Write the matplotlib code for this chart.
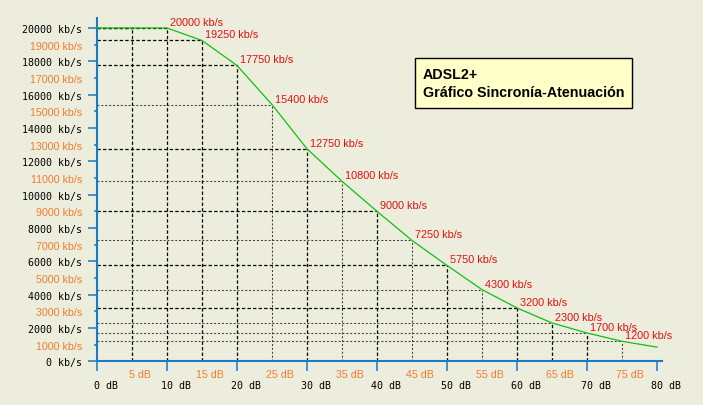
import matplotlib.pyplot as plt
from matplotlib.ticker import FixedLocator, FuncFormatter
from matplotlib.patches import Rectangle

plt.rcParams['lines.scale_dashes'] = False

# datos de la curva (atenuacion en dB, sincronia en kb/s)
atenuacion_db = [0, 5, 10, 15, 20, 25, 30, 35, 40, 45, 50, 55, 60, 65, 70, 75, 80]
sincronia_kbps = [20000, 20000, 20000, 19250, 17750, 15400, 12750, 10800, 9000,
                  7250, 5750, 4300, 3200, 2300, 1700, 1200, 850]

# puntos con lineas de referencia (5..75 dB) y puntos con etiqueta (10..75 dB)
ref_db = atenuacion_db[1:-1]
ref_kbps = sincronia_kbps[1:-1]
etiq_db = atenuacion_db[2:-1]
etiq_kbps = sincronia_kbps[2:-1]

# ticks
y_mayor = list(range(0, 20001, 2000))
y_menor = list(range(1000, 20000, 2000))
x_mayor = list(range(0, 81, 10))
x_menor = list(range(5, 80, 10))

# estilo de cada linea de referencia: True = trazo negro, False = punteado fino
horiz_fuerte = [True, True, True, True, False, True, False, True, False, True,
                False, True, False, False, False]
vert_fuerte = [True, True, True, True, False, True, False, True, False, True,
               False, True, True, True, False]

fondo = '#ECEDDC'
azul = '#1A7AC8'
naranja = '#F07C30'
rojo = '#E01010'
verde = '#10C010'

W, H = 703, 406
fig = plt.figure(figsize=(W / 100, H / 100), dpi=100, facecolor=fondo)
ax = fig.add_axes([97 / W, 43.7 / H, (661.7 - 97) / W, (386.7 - 43.7) / H], facecolor=fondo)
ax.set_xlim(0, 80.67)
ax.set_ylim(0, 20580)

fuerte = dict(color='black', lw=0.9, dashes=(2.4, 1.6))
fino = dict(color='#3A3A3A', lw=0.75, dashes=(1.4, 1.4))

for x, y, h, v in zip(ref_db, ref_kbps, horiz_fuerte, vert_fuerte):
    ax.plot([0, x], [y, y], **(fuerte if h else fino))
    ax.plot([x, x], [0, y], **(fuerte if v else fino))

# curva
ax.plot(atenuacion_db, sincronia_kbps, color=verde, lw=0.9, zorder=5, clip_on=False)

for x, y in zip(etiq_db, etiq_kbps):
    ax.annotate(f"{y} kb/s", (x, y), xytext=(3, 6), textcoords='offset pixels',
                ha='left', va='center', color=rojo, fontsize=7.8,
                family='Liberation Sans', zorder=6)

# ejes
for s in ['top', 'right']:
    ax.spines[s].set_visible(False)
for s in ['left', 'bottom']:
    ax.spines[s].set_color(azul)
    ax.spines[s].set_linewidth(1.5)

ax.yaxis.set_major_locator(FixedLocator(y_mayor))
ax.yaxis.set_minor_locator(FixedLocator(y_menor))
ax.xaxis.set_major_locator(FixedLocator(x_mayor))
ax.xaxis.set_minor_locator(FixedLocator(x_menor))
ax.yaxis.set_major_formatter(FuncFormatter(lambda v, p: f"{int(v)} kb/s"))
ax.yaxis.set_minor_formatter(FuncFormatter(lambda v, p: f"{int(v)} kb/s"))
ax.xaxis.set_major_formatter(FuncFormatter(lambda v, p: f"   {int(v)} dB"))
ax.xaxis.set_minor_formatter(FuncFormatter(lambda v, p: f"     {int(v)} dB"))

ax.tick_params(axis='y', which='major', length=6.5, width=1.1, color=azul,
               pad=4.0, labelsize=7.2, labelcolor='black')
ax.tick_params(axis='y', which='minor', length=2.2, width=1.1, color=azul,
               pad=8.4, labelsize=7.7, labelcolor=naranja)
ax.tick_params(axis='x', which='major', length=7.2, width=1.1, color=azul,
               pad=6.5, labelsize=7.2, labelcolor='black')
ax.tick_params(axis='x', which='minor', length=0, pad=5.5, labelsize=7.7,
               labelcolor=naranja)

for t in ax.yaxis.get_major_ticks() + ax.xaxis.get_major_ticks():
    t.label1.set_fontfamily('DejaVu Sans Mono')
for t in ax.yaxis.get_minor_ticks() + ax.xaxis.get_minor_ticks():
    t.label1.set_fontfamily('Liberation Sans')

# cuadro del titulo
fig.patches.append(Rectangle((415 / W, 1 - 109.3 / H), (631.7 - 415) / W, 50 / H,
                             transform=fig.transFigure, facecolor='#FFFFC8',
                             edgecolor='black', lw=1))
fig.text(422.7 / W, 1 - 75 / H, "ADSL2+", va='center', ha='left',
         weight='bold', size=10.3, family='Liberation Sans')
fig.text(422.7 / W, 1 - 93.3 / H, "Gráfico Sincronía-Atenuación", va='center',
         ha='left', weight='bold', size=10.3, family='Liberation Sans')

fig.savefig('out.png', dpi=100, facecolor=fondo)
